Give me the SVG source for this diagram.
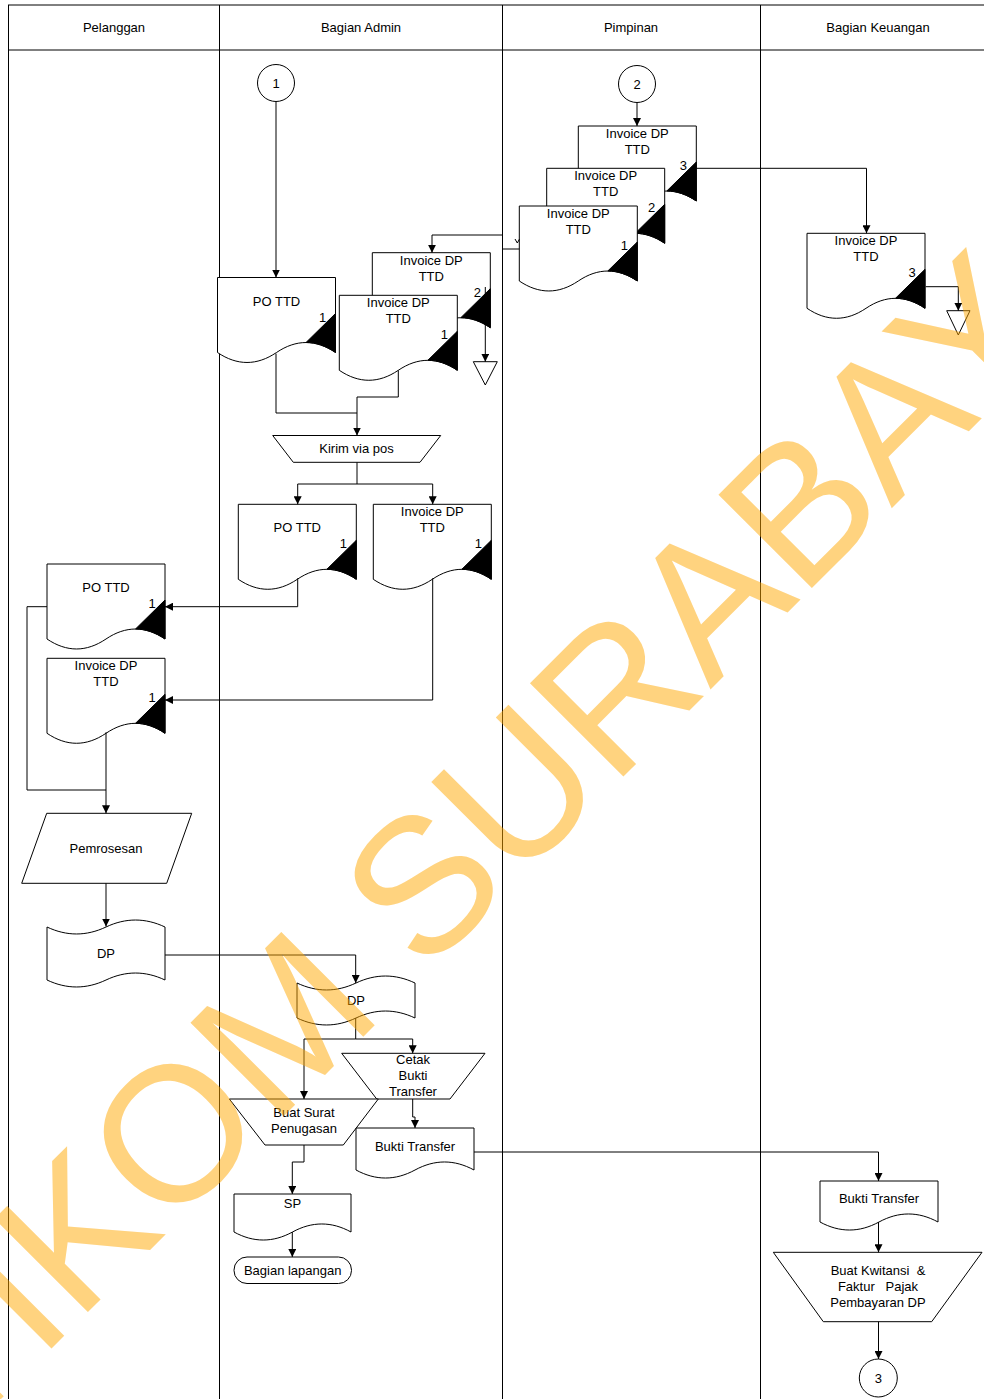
<svg xmlns="http://www.w3.org/2000/svg" xmlns:xlink="http://www.w3.org/1999/xlink" width="984" height="1399" viewBox="0 0 984 1399">
<style>
.s{fill:#fff;stroke:#000;stroke-width:1}
.k{fill:#000;stroke:#000;stroke-width:1}
.ln{fill:none;stroke:#000;stroke-width:1}
.c{fill:none;stroke:#000;stroke-width:1}
.ca{fill:none;stroke:#000;stroke-width:1;marker-end:url(#ah)}
text{font-family:"Liberation Sans",Arial,sans-serif;font-size:13px;fill:#000;text-anchor:middle}
.pre{white-space:pre}
.wm{font-family:"Liberation Sans",Arial,sans-serif;font-size:192px;fill:#FFA800;fill-opacity:0.5;text-anchor:start}
</style>
<defs>
<marker id="ah" markerWidth="8" markerHeight="8" refX="8" refY="4" orient="auto" markerUnits="userSpaceOnUse">
<path d="M0,0 L8,4 L0,8 Z" fill="#000"/>
</marker>
<g id="docT">
<path class="s" d="M0,0 H118 V75 C98.3,61.7 78.7,61.7 59,75 C39.3,88.3 19.7,88.3 0,75 Z"/>
<path class="k" d="M118,36 L88.5,65 C98.3,65 108.2,68.3 118,75 Z"/>
</g>
</defs>
<rect x="0" y="0" width="984" height="1399" fill="#fff"/>
<g id="lanes">
<line class="ln" x1="8" y1="5" x2="984" y2="5" stroke-width="2"/>
<line class="ln" x1="8" y1="50" x2="984" y2="50"/>
<line class="ln" x1="8.5" y1="5" x2="8.5" y2="1399"/>
<line class="ln" x1="219.5" y1="5" x2="219.5" y2="1399"/>
<line class="ln" x1="502.5" y1="5" x2="502.5" y2="1399"/>
<line class="ln" x1="760.5" y1="5" x2="760.5" y2="1399"/>
<text x="114" y="32">Pelanggan</text>
<text x="361" y="32">Bagian Admin</text>
<text x="631" y="32">Pimpinan</text>
<text x="878" y="32">Bagian Keuangan</text>
</g>
<g id="con1"><circle class="s" cx="276" cy="83" r="18.5"/><text x="276" y="88">1</text></g>
<g id="con2"><circle class="s" cx="637" cy="84" r="18.5"/><text x="637" y="89">2</text></g>
<g id="con3"><circle class="s" cx="878.3" cy="1378" r="19"/><text x="878.3" y="1383">3</text></g>
<g id="pimp-inv3"><use xlink:href="#docT" href="#docT" x="578.3" y="126"/><text x="637.3" y="138">Invoice DP</text><text x="637.3" y="154">TTD</text><text x="683.3" y="170">3</text></g>
<g id="pimp-inv2"><use xlink:href="#docT" href="#docT" x="546.7" y="168.3"/><text x="605.7" y="180.3">Invoice DP</text><text x="605.7" y="196.3">TTD</text><text x="651.7" y="212.3">2</text></g>
<g id="pimp-inv1"><use xlink:href="#docT" href="#docT" x="519.3" y="206"/><text x="578.3" y="218">Invoice DP</text><text x="578.3" y="234">TTD</text><text x="624.3" y="250">1</text></g>
<g id="keu-inv3"><use xlink:href="#docT" href="#docT" x="807" y="233.3"/><text x="866" y="245.3">Invoice DP</text><text x="866" y="261.3">TTD</text><text x="912" y="277.3">3</text></g>
<g id="keu-arsip"><path class="s" d="M946.7,310.7 H970 L958.3,335 Z"/></g>
<g id="adm-po"><use xlink:href="#docT" href="#docT" x="217.5" y="277.5"/><text x="276.5" y="305.5">PO TTD</text><text x="322.5" y="321.5">1</text></g>
<g id="adm-inv2"><use xlink:href="#docT" href="#docT" x="372.3" y="252.7"/><text x="431.3" y="264.7">Invoice DP</text><text x="431.3" y="280.7">TTD</text><text x="477.3" y="296.7">2</text></g>
<g id="adm-inv1"><use xlink:href="#docT" href="#docT" x="339.3" y="295.3"/><text x="398.3" y="307.3">Invoice DP</text><text x="398.3" y="323.3">TTD</text><text x="444.3" y="339.3">1</text></g>
<g id="adm-arsip"><path class="s" d="M473.3,361.7 H497.3 L485.3,385 Z"/></g>
<g id="kirim"><path class="s" d="M272.7,435.5 H440.7 L420,462.3 H293.3 Z"/><text x="356.5" y="453">Kirim via pos</text></g>
<g id="adm-po2"><use xlink:href="#docT" href="#docT" x="238.3" y="504.3"/><text x="297.3" y="532.3">PO TTD</text><text x="343.3" y="548.3">1</text></g>
<g id="adm-inv3"><use xlink:href="#docT" href="#docT" x="373.3" y="504.3"/><text x="432.3" y="516.3">Invoice DP</text><text x="432.3" y="532.3">TTD</text><text x="478.3" y="548.3">1</text></g>
<g id="pel-po"><use xlink:href="#docT" href="#docT" x="47" y="564"/><text x="106" y="592">PO TTD</text><text x="152" y="608">1</text></g>
<g id="pel-inv"><use xlink:href="#docT" href="#docT" x="47" y="658.3"/><text x="106" y="670.3">Invoice DP</text><text x="106" y="686.3">TTD</text><text x="152" y="702.3">1</text></g>
<g id="pemrosesan"><path class="s" d="M46.7,813.3 H191.7 L166.7,883.3 H21.7 Z"/><text x="106" y="853">Pemrosesan</text></g>
<g id="pel-dp"><path class="s" d="M47,927 C66.7,936.3 86.3,936.3 106,927 C125.7,917.7 145.3,917.7 165,927 V980 C145.3,970.7 125.7,970.7 106,980 C86.3,989.3 66.7,989.3 47,980 Z"/><text x="106" y="958">DP</text></g>
<g id="adm-dp"><path class="s" d="M297,983 C316.7,992.3 336.3,992.3 356,983 C375.7,973.7 395.3,973.7 415,983 V1018 C395.3,1008.7 375.7,1008.7 356,1018 C336.3,1027.3 316.7,1027.3 297,1018 Z"/><text x="356" y="1005">DP</text></g>
<g id="cetak"><path class="s" d="M341.7,1053.3 H485 L450,1099 H376.7 Z"/><text x="413" y="1064">Cetak</text><text x="413" y="1080">Bukti</text><text x="413" y="1096">Transfer</text></g>
<g id="buat-surat"><path class="s" d="M229.3,1099 H378.3 L343.3,1145 H265 Z"/><text x="304" y="1117">Buat Surat</text><text x="304" y="1133">Penugasan</text></g>
<g id="adm-bukti"><path class="s" d="M356,1128 H474 V1170 C454.3,1159.3 434.7,1159.3 415,1170 C395.3,1180.7 375.7,1180.7 356,1170 Z"/><text x="415" y="1151">Bukti Transfer</text></g>
<g id="sp"><path class="s" d="M234,1194 H351 V1232 C331.5,1221.3 312,1221.3 292.5,1232 C273,1242.7 253.5,1242.7 234,1232 Z"/><text x="292.5" y="1208">SP</text></g>
<g id="bag-lapangan"><rect class="s" x="234" y="1257" width="117.5" height="26.5" rx="13" ry="13"/><text x="292.7" y="1275">Bagian lapangan</text></g>
<g id="keu-bukti"><path class="s" d="M820,1181 H938 V1222 C918.3,1211.3 898.7,1211.3 879,1222 C859.3,1232.7 839.7,1232.7 820,1222 Z"/><text x="879" y="1203">Bukti Transfer</text></g>
<g id="kwitansi"><path class="s" d="M773.3,1252.3 H982 L931.7,1321.7 H823.3 Z"/><text class="pre" x="878" y="1275">Buat Kwitansi  &amp;</text><text class="pre" x="878" y="1291">Faktur   Pajak</text><text x="878" y="1307">Pembayaran DP</text></g>
<g id="connectors">
<path class="ca" d="M276,101.5 V277.5"/>
<path class="ca" d="M637,102.5 V126"/>
<path class="ca" d="M696.3,168.3 H866.5 V233.3"/>
<path class="ca" d="M519.3,249 H502.5 V235 H432 V252.7"/>
<path class="c" d="M515,239 L517.3,243 L519.5,239"/>
<path class="ca" d="M485.3,287 V361.7"/>
<path class="c" d="M276,353.5 V413 H357"/>
<path class="ca" d="M398.3,370.3 V397 H357 V435.5"/>
<path class="ca" d="M357,462.3 V484 H297.7 V504.3"/>
<path class="ca" d="M357,484 H432.7 V504.3"/>
<path class="ca" d="M297.7,578.3 V606.7 H165"/>
<path class="ca" d="M432.7,578.3 V700 H165"/>
<path class="c" d="M47,606.7 H27 V790 H106"/>
<path class="ca" d="M106,732.3 V813.3"/>
<path class="ca" d="M106,883.3 V926.5"/>
<path class="ca" d="M165,955 H355.7 V983"/>
<path class="ca" d="M355.7,1018 V1039 H304 V1099"/>
<path class="ca" d="M355.7,1039 H412.7 V1053.3"/>
<path class="ca" d="M412.7,1099 V1117 H415 V1128"/>
<path class="ca" d="M304,1145 V1162 H292.3 V1194"/>
<path class="ca" d="M292.3,1232 V1257"/>
<path class="ca" d="M474,1152 H878.5 V1181"/>
<path class="ca" d="M878.5,1222 V1252.3"/>
<path class="ca" d="M878.5,1321.7 V1359"/>
<path class="ca" d="M925.7,286.7 H958.3 V310.7"/>
</g>
<text class="wm" x="-134.5" y="1534.5" transform="rotate(-45 -134.5 1534.5)">STIKOM SURABAYA</text>
</svg>
